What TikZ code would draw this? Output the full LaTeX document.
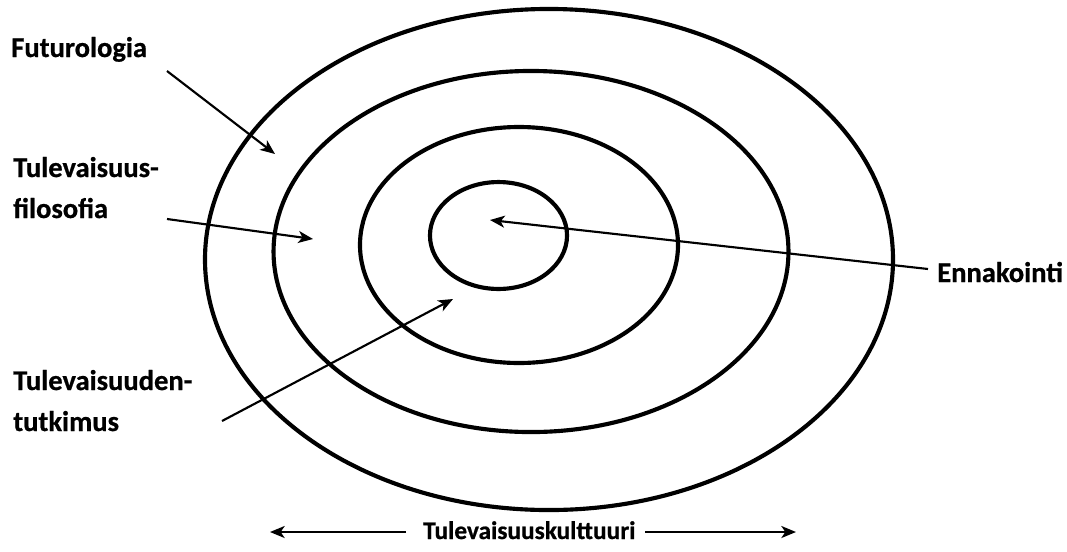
\documentclass[tikz,border=0pt]{standalone}
\usepackage{fontspec}
\setmainfont[BoldFeatures={FakeBold=0.7}]{Carlito}
\usetikzlibrary{arrows.meta}

\begin{document}
\begin{tikzpicture}[
    x=0.75pt, y=-0.75pt,
    ring/.style={draw, line width=3.1pt},
    pointer/.style={-{Stealth[length=11pt,width=9pt,inset=3pt]}, line width=1.6pt},
    label/.style={anchor=base west, inner sep=0pt, align=left,
                  font=\fontsize{21.4}{30.75}\selectfont\bfseries},
    smalllabel/.style={label, font=\fontsize{19}{23}\selectfont\bfseries}
]
\useasboundingbox (0,0) rectangle (1067,551);

% Rings
\draw[ring] (549,259.5) ellipse [x radius=258pt, y radius=187.9pt];
\draw[ring] (531,251.5) ellipse [x radius=193.1pt, y radius=135.4pt];
\draw[ring] (519,245) ellipse [x radius=119.25pt, y radius=88.5pt];
\draw[ring] (498.5,235.5) ellipse [x radius=51.4pt, y radius=40.1pt];

% Labels
\node[label] (futu) at (11,57) {Futurologia};
\node[label] (filo) at (13,218) {Tulevaisuus-\\filosofia};
\node[label] (tutk) at (13,431) {Tulevaisuuden-\\tutkimus};
\node[label] (enna) at (937,282) {Ennakointi};
\node[smalllabel] (kult) at (423,539) {Tulevaisuuskulttuuri};

% Arrow ends
\coordinate (futu-tail) at (167,71);
\coordinate (futu-tip) at (275,154);
\coordinate (filo-tail) at (167,219);
\coordinate (filo-tip) at (313,239);
\coordinate (tutk-tail) at (222,421);
\coordinate (tutk-tip) at (453,299);
\coordinate (enna-tail) at (928,269);
\coordinate (enna-tip) at (490,220);
\coordinate (kult-left) at (406,532);
\coordinate (kult-lefttip) at (270,532);
\coordinate (kult-right) at (645,532);
\coordinate (kult-righttip) at (796,532);

% Arrows
\draw[pointer] (futu-tail) -- (futu-tip);
\draw[pointer] (filo-tail) -- (filo-tip);
\draw[pointer] (tutk-tail) -- (tutk-tip);
\draw[pointer] (enna-tail) -- (enna-tip);
\draw[pointer] (kult-left) -- (kult-lefttip);
\draw[pointer] (kult-right) -- (kult-righttip);

\end{tikzpicture}
\end{document}
